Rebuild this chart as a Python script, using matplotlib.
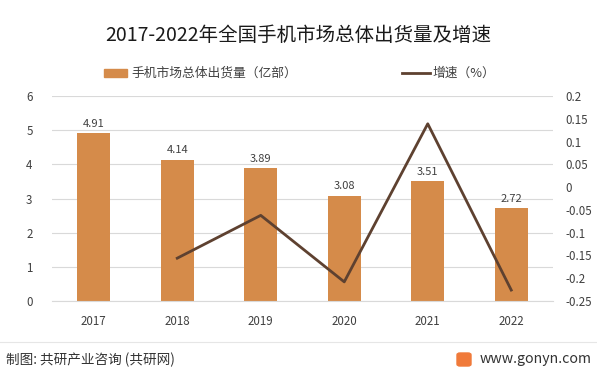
import matplotlib
matplotlib.use("Agg")
import matplotlib.pyplot as plt
from matplotlib.patches import FancyBboxPatch
from matplotlib.lines import Line2D

plt.rcParams['font.family'] = ['Noto Sans CJK SC', 'DejaVu Sans']

years = ["2017", "2018", "2019", "2020", "2021", "2022"]
shipments = [4.91, 4.14, 3.89, 3.08, 3.51, 2.72]
growth_years = ["2018", "2019", "2020", "2021", "2022"]
growth = [-0.156, -0.062, -0.208, 0.139, -0.226]
left_ticks = [0, 1, 2, 3, 4, 5, 6]
right_ticks = [0.2, 0.15, 0.1, 0.05, 0, -0.05, -0.1, -0.15, -0.2, -0.25]

title = "2017-2022年全国手机市场总体出货量及增速"
bar_label = "手机市场总体出货量（亿部）"
line_label = "增速（%）"
footer_left = "制图: 共研产业咨询 (共研网)"
footer_right = "www.gonyn.com"

bar_color = "#D58B4A"
line_color = "#5E4130"
text_color = "#404040"

fig = plt.figure(figsize=(5.97, 3.74), dpi=100)
ax = fig.add_axes([52/597, 1-301/374, (553-52)/597, (301-96)/374])

x = list(range(len(years)))
ax.bar(x, shipments, width=0.4, color=bar_color, zorder=2)
for xi, v in zip(x, shipments):
    ax.text(xi, v + 0.13, f"{v:.2f}", ha="center", va="bottom", fontsize=8, color=text_color)

ax.set_xlim(-0.5, len(years) - 0.5)
ax.set_ylim(0, 6)
ax.set_yticks(left_ticks)
ax.set_xticks(x)
ax.set_xticklabels(years)
ax.grid(axis="y", color="#D9D9D9", linewidth=0.8, zorder=0)
for s in ["top", "right", "left"]:
    ax.spines[s].set_visible(False)
ax.spines["bottom"].set_color("#D9D9D9")
ax.tick_params(axis="both", length=0, labelsize=8.3, colors=text_color)
ax.tick_params(axis="x", pad=10)
ax.tick_params(axis="y", pad=14)

ax2 = ax.twinx()
gx = [years.index(y) for y in growth_years]
ax2.plot(gx, growth, color=line_color, linewidth=2, zorder=3)
ax2.set_ylim(-0.25, 0.2)
ax2.set_yticks(right_ticks)
ax2.set_yticklabels([f"{t:g}" for t in right_ticks])
for s in ["top", "right", "left", "bottom"]:
    ax2.spines[s].set_visible(False)
ax2.tick_params(axis="y", length=0, labelsize=8.3, colors=text_color, pad=9)

fig.text(0.5, 1-35/374, title, ha="center", va="center", fontsize=14, color="#1a1a1a")

# legend
fig.patches.append(FancyBboxPatch((104/597, 1-77/374), 23/597, 8/374, boxstyle="square,pad=0",
                                  transform=fig.transFigure, color=bar_color))
fig.text(131/597, 1-73/374, bar_label, ha="left", va="center", fontsize=9.2, color=text_color)
fig.lines.append(Line2D([402/597, 430/597], [1-73/374, 1-73/374], transform=fig.transFigure,
                        color=line_color, linewidth=2))
fig.text(432/597, 1-73/374, line_label, ha="left", va="center", fontsize=9.2, color=text_color)

# footer
fig.lines.append(Line2D([0, 1], [1-342/374, 1-342/374], transform=fig.transFigure,
                        color="#E6E6E6", linewidth=0.8))
fig.text(6/597, 1-360/374, footer_left, ha="left", va="center", fontsize=9.8,
         color="#333333", fontweight="medium")
fig.patches.append(FancyBboxPatch((457/597, 1-366/374), 14/597, 13/374,
                                  boxstyle="round,pad=0,rounding_size=0.005",
                                  transform=fig.transFigure, color="#F07A3A"))
fig.text(480/597, 1-359/374, footer_right, ha="left", va="center", fontsize=10.2, color="#333333")

fig.savefig("out.png", dpi=100)
